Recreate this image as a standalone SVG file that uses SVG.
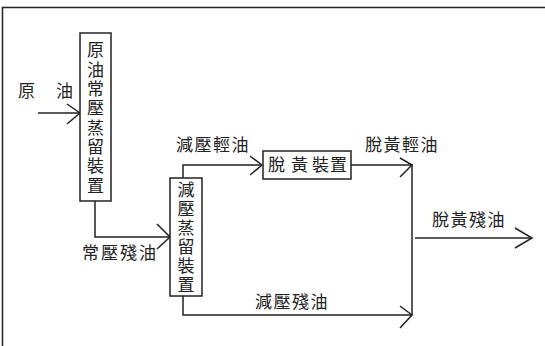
<svg xmlns="http://www.w3.org/2000/svg" width="545" height="346" viewBox="0 0 545 346">
<defs>
<style>
.ln{fill:none;stroke:#222;stroke-width:1.5;}
.bx{fill:#fff;stroke:#222;stroke-width:1.5;}
.ah{fill:none;stroke:#222;stroke-width:1.5;stroke-linejoin:miter;}
text{font-family:"Noto Sans CJK TC","Noto Sans CJK JP",serif;font-size:17px;fill:#222;}
.vt{writing-mode:vertical-rl;text-orientation:upright;}
</style>
</defs>
<rect width="545" height="346" fill="#fff"/>
<g id="frame">
<path class="ln" d="M2.5,346 V7.5 H545"/>
</g>
<g id="connectors">
<path class="ln" d="M38,113 H80"/>
<path class="ah" d="M67,104 L80,113 L67,124"/>
<path class="ln" d="M95,201 V237 H170"/>
<path class="ah" d="M157,224 L170,237 L157,249"/>
<path class="ln" d="M183,178 V165 H262"/>
<path class="ah" d="M250,156 L262,165 L250,175"/>
<path class="ln" d="M351,165 H412 V315"/>
<path class="ah" d="M400,158 L412,165 L400,177"/>
<path class="ln" d="M183,296 V315 H412"/>
<path class="ah" d="M400,306 L412,315 L400,328"/>
<path class="ln" d="M415,238 H532"/>
<path class="ah" d="M515,228 L532,238 L515,248"/>
</g>
<g id="label-crude">
<text x="18" y="97" font-size="16">原</text>
<text x="56" y="97" font-size="16">油</text>
</g>
<g id="node-atmospheric">
<rect class="bx" x="80" y="33" width="31" height="168"/>
<text class="vt" x="95.5" y="41.5" letter-spacing="2.3">原油常壓蒸留裝置</text>
</g>
<g id="label-atm-residue">
<text x="82" y="259" letter-spacing="2">常壓殘油</text>
</g>
<g id="node-vacuum">
<rect class="bx" x="170" y="178" width="32" height="118"/>
<text class="vt" x="186" y="181.5" letter-spacing="2">減壓蒸留裝置</text>
</g>
<g id="label-vac-light">
<text x="176" y="151" letter-spacing="1.5">減壓輕油</text>
</g>
<g id="node-desulfur">
<rect class="bx" x="263" y="151" width="88" height="28"/>
<text x="268 291 312 330" y="171">脫黃裝置</text>
</g>
<g id="label-desulf-light">
<text x="365" y="151" letter-spacing="1.5">脫黃輕油</text>
</g>
<g id="label-desulf-residue">
<text x="432" y="226" letter-spacing="1.5">脫黃殘油</text>
</g>
<g id="label-vac-residue">
<text x="255" y="308" letter-spacing="1.5">減壓殘油</text>
</g>
</svg>
